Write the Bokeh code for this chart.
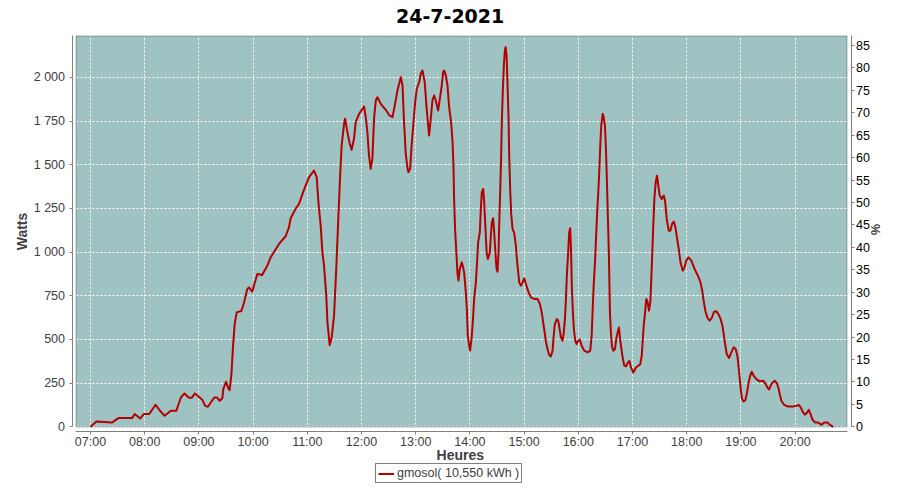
import math
from bokeh.plotting import figure
from bokeh.models import (Range1d, LinearAxis, FixedTicker, BoxAnnotation,
                          Legend, LegendItem, Label)
from bokeh.embed import file_html
from bokeh.resources import INLINE

# ---------------- data ----------------
title_text = "24-7-2021"
series_name = "gmosol( 10,550 kWh )"
x_label = "Heures"
y_label = "Watts"
y2_label = "%"

x_tick_minutes = [0, 60, 120, 180, 240, 300, 360, 420, 480, 540, 600, 660, 720, 780]
x_tick_labels = ["07:00", "08:00", "09:00", "10:00", "11:00", "12:00", "13:00",
                 "14:00", "15:00", "16:00", "17:00", "18:00", "19:00", "20:00"]
y_ticks = [0, 250, 500, 750, 1000, 1250, 1500, 1750, 2000]
y_tick_labels = ["0", "250", "500", "750", "1 000", "1 250", "1 500", "1 750", "2 000"]
y2_ticks = [0, 5, 10, 15, 20, 25, 30, 35, 40, 45, 50, 55, 60, 65, 70, 75, 80, 85]

# minutes after 07:00
t_min = [
    0, 6.6, 24, 31, 46, 49, 55, 59, 65, 72, 77, 82, 89, 95, 100, 104, 109, 112, 115.6,
    124, 127, 130, 137, 140, 143, 146, 147, 150, 152.6, 154, 156, 157.7, 159.6, 161.8,
    167, 170, 173.6, 175.4, 179, 184.7, 190, 195.8, 199.4, 208.7, 216, 219.7, 221.6,
    227, 230.8, 236.4, 241.9, 247.4, 250.4, 252.3, 254.8, 256.7, 258.5, 261, 262.3,
    264.8, 267, 269.6, 272.2, 274, 276, 278, 280.7, 281.8, 284.4, 286.6, 289, 291.7,
    293.6, 297.3, 302.8, 304.7, 306.5, 308.3, 310.2, 312, 313.9, 315.8, 317.6, 321.3,
    326.9, 330.5, 334.3, 337.2, 339.8, 343.5, 345.4, 347.1, 349, 351, 352, 353.8,
    355.7, 357.6, 359.4, 361.2, 363.8, 365.6, 367.5, 370, 372, 373.8, 374.8, 376.7,
    378.5, 380.4, 382.2, 384.8, 386.7, 388.6, 390.4, 391.5, 393.3, 395.2, 397, 399.2,
    400.8, 401.9, 402.5, 403.6, 405.2, 406.3, 407.4, 408.8, 411, 412.5, 413.6, 415.5,
    416.6, 417.7, 419.2, 420.2, 421.8, 423.2, 424.7, 426.6, 427.7, 429.1, 431, 432.1,
    433.2, 434.7, 435.8, 436.9, 438.5, 439.9, 442.1, 443.2, 444.3, 445.7, 446.9, 448,
    449.5, 450.6, 451.7, 452.4, 453.5, 454.6, 455.4, 456.5, 457.6, 458.7, 459.5, 460.6,
    461.7, 462.8, 463.5, 464.6, 465.7, 467.2, 469, 470.9, 472, 473.1, 474.6, 476.4,
    478.3, 480.1, 482, 485, 487.5, 491.2, 494.9, 497.5, 499.7, 502.2, 504, 505.9,
    507.8, 509.6, 511.5, 512.6, 514, 516.3, 517.8, 519.6, 520.8, 522.6, 523.7, 525.2,
    526.3, 527.4, 528.8, 529.9, 531, 531.8, 532.9, 534, 535.1, 536.6, 538.1, 539.9,
    541.8, 543.7, 546.6, 550.3, 553.2, 554.8, 555.9, 557, 558.5, 559.6, 560.7, 562.1,
    563.2, 564.3, 565.4, 567, 568.1, 569.5, 570.6, 571.7, 572.8, 573.9, 575, 576.1,
    577.2, 578.7, 580.6, 582, 583.5, 585, 586.1, 587.2, 589.1, 590.9, 592.8, 594.6,
    596.5, 598.3, 600.9, 603.9, 606.4, 608.6, 610.2, 611.3, 612.4, 613.9, 615.3, 616.8,
    618.2, 619.7, 620.8, 621.9, 623, 624.2, 625.7, 627.1, 628.6, 630.1, 632.3, 634.6,
    636, 637.9, 640.1, 641.9, 643.8, 645.7, 647.5, 649.4, 651.2, 653.1, 655.7, 657.6,
    659.4, 662, 665, 668.7, 672.4, 675.3, 677.2, 678.7, 680.6, 682.8, 685.4, 688,
    690.2, 692.8, 695.4, 697.6, 699.5, 701, 702.5, 704.3, 706.9, 709.4, 712, 714.2,
    716.1, 717.5, 718.6, 719.8, 721.3, 723.1, 725, 726.8, 728.6, 730.2, 731.9, 734.2,
    737.1, 740.8, 744.5, 747.1, 749.3, 751.2, 753.7, 757.4, 760, 761.8, 763.4, 764.8,
    767.8, 772.3, 777.8, 781.5, 784, 786.3, 788.2, 790.8, 793.4, 795.2, 797.1, 799,
    801.9, 805.6, 809.3, 812.2, 815.9, 818.5, 822.2,
]
watts = [
    0, 30, 25, 50, 50, 73, 48, 73, 73, 126, 92, 63, 92, 92, 168, 191, 166, 166, 191,
    153, 120, 115, 168, 168, 149, 164, 216, 258, 220, 210, 302, 455, 588, 655,
    663, 712, 789, 798, 774, 875, 869, 923, 970, 1047, 1091, 1142, 1194,
    1248, 1276, 1358, 1429, 1467, 1429, 1286, 1152, 999, 923, 751, 598,
    468, 512, 636, 923, 1152, 1400, 1610, 1735, 1764, 1687, 1629, 1586, 1649,
    1744, 1792, 1834, 1773, 1687, 1553, 1477, 1534, 1764, 1868, 1887, 1849,
    1815, 1785, 1773, 1849, 1926, 2002, 1954, 1744, 1563, 1477, 1458, 1477,
    1629, 1744, 1859, 1935, 1973, 2021, 2040, 1973, 1830, 1725, 1668, 1764,
    1868, 1897, 1868, 1811, 1878, 1945, 2031, 2040, 2012, 1954, 1830, 1744,
    1629, 1477, 1305, 1133, 980, 875, 837, 904, 942, 913, 884, 770,
    674, 522, 464, 436, 503, 598, 732, 827, 923, 1056, 1114, 1248,
    1343, 1362, 1286, 1171, 999, 961, 999, 1095, 1171, 1194, 1114, 1018,
    904, 888, 999, 1152, 1343, 1553, 1754, 1935, 2069, 2155, 2174, 2126,
    1954, 1764, 1553, 1362, 1219, 1133, 1110, 1037, 961, 904, 827, 808,
    827, 850, 818, 770, 741, 732, 732, 703, 650, 560, 493, 445,
    411, 403, 436, 512, 588, 617, 607, 550, 512, 493, 531, 617,
    732, 875, 999, 1114, 1137, 1037, 789, 655, 560, 493, 474, 493,
    499, 464, 436, 426, 436, 522, 674, 808, 942, 1076, 1209, 1343,
    1458, 1610, 1725, 1792, 1773, 1725, 1592, 1400, 1190, 980, 655, 540,
    464, 436, 445, 503, 540, 569, 512, 464, 397, 350, 346, 365,
    378, 340, 311, 340, 350, 359, 407, 493, 579, 655, 732, 712,
    665, 712, 846, 999, 1152, 1305, 1400, 1438, 1381, 1324, 1305, 1324,
    1295, 1190, 1123, 1123, 1162, 1175, 1142, 1076, 1018, 942, 894, 913,
    951, 970, 953, 904, 865, 827, 779, 722, 665, 626, 607, 626,
    659, 661, 642, 617, 579, 531, 474, 417, 394, 426, 455, 445,
    407, 340, 283, 216, 159, 145, 153, 197, 254, 292, 315, 292,
    273, 260, 264, 248, 225, 214, 245, 264, 248, 216, 178, 149,
    126, 116, 116, 120, 126, 111, 88, 69, 82, 97, 73, 44,
    25, 25, 11, 25, 25, 11, 0,
]

# ---------------- layout (canvas pixels -> data units) ----------------
W, H = 884, 484
X0_PX, MIN_PER_PX = 90.0, 1.107      # 07:00 at x=90 px
Y0_PX, W_PER_PX = 426.3, 5.7257      # 0 W at y=426.3 px
P_PER_PX = 0.22292                   # % per px on the right axis


def dx(px):
    return (px - X0_PX) * MIN_PER_PX


def dy(py):
    return (Y0_PX - py) * W_PER_PX


TEAL = "#9fc3c3"
RED = "#b40000"
GREY = "#808080"
DARK = "#404040"
FONT = "Liberation Sans"

p = figure(width=W, height=H, output_backend="svg", toolbar_location=None,
           x_range=Range1d(dx(0), dx(W)), y_range=Range1d(dy(H), dy(0)),
           min_border_left=0, min_border_right=0, min_border_top=0,
           min_border_bottom=0)
p.title.visible = False
p.outline_line_color = None
p.background_fill_color = "white"
p.border_fill_color = "white"
p.extra_y_ranges = {"pct": Range1d(-(H - Y0_PX) * P_PER_PX, Y0_PX * P_PER_PX)}

BOX_L, BOX_R, BOX_T, BOX_B = dx(75.5), dx(846.5), dy(35.5), dy(426.5)

# plot background
p.add_layout(BoxAnnotation(left=BOX_L, right=BOX_R, bottom=BOX_B, top=BOX_T,
                           fill_color=TEAL, fill_alpha=1.0, line_color=None,
                           level="image"))

xt = FixedTicker(ticks=x_tick_minutes)
yt = FixedTicker(ticks=y_ticks)

r = p.line(t_min, watts, line_color=RED, line_width=2, line_join="round")

# plot border
p.add_layout(BoxAnnotation(left=BOX_L, right=BOX_R, bottom=BOX_B, top=BOX_T,
                           fill_alpha=0, line_color="black", line_width=1,
                           level="overlay"))

# grids
p.xgrid.ticker = xt
p.ygrid.ticker = yt
for g in (p.xgrid[0], p.ygrid[0]):
    g.grid_line_color = "white"
    g.grid_line_dash = "2 2"
    g.grid_line_width = 1
    g.grid_line_alpha = 1.0


def style_axis(ax, label_color):
    ax.axis_line_color = GREY
    ax.major_tick_line_color = GREY
    ax.major_tick_in = 0
    ax.major_tick_out = 3
    ax.minor_tick_line_color = None
    ax.major_label_text_font = FONT
    ax.major_label_text_font_size = "12.5px"
    ax.major_label_text_color = label_color


xa = p.xaxis[0]
xa.ticker = xt
xa.major_label_overrides = dict(zip(x_tick_minutes, x_tick_labels))
xa.fixed_location = dy(430.5)
xa.bounds = (dx(75), dx(846.7))
style_axis(xa, DARK)
xa.major_label_standoff = 1

ya = p.yaxis[0]
ya.ticker = yt
ya.major_label_overrides = dict(zip(y_ticks, y_tick_labels))
ya.fixed_location = dx(71.5)
ya.bounds = (0, dy(35))
style_axis(ya, DARK)
ya.major_label_standoff = 4

ya2 = LinearAxis(y_range_name="pct", ticker=FixedTicker(ticks=y2_ticks),
                 fixed_location=dx(850.5), bounds=(0, (Y0_PX - 35) * P_PER_PX))
style_axis(ya2, "black")
ya2.major_label_standoff = 2
p.add_layout(ya2, "right")

# texts
p.add_layout(Label(x=dx(449.6), y=dy(15.2), text=title_text,
                   text_align="center", text_baseline="alphabetic",
                   text_font="DejaVu Sans", text_font_style="bold",
                   text_font_size="19px", text_color="black"))
p.add_layout(Label(x=dx(459.8), y=dy(454.5), text=x_label,
                   text_align="center", text_baseline="alphabetic",
                   text_font=FONT, text_font_style="bold",
                   text_font_size="14px", text_color=DARK))
p.add_layout(Label(x=dx(21), y=dy(231), text=y_label, angle=math.pi / 2,
                   text_align="center", text_baseline="middle",
                   text_font=FONT, text_font_style="bold",
                   text_font_size="14px", text_color=DARK))
p.add_layout(Label(x=dx(875), y=dy(229), text=y2_label, angle=math.pi / 2,
                   text_align="center", text_baseline="middle",
                   text_font=FONT, text_font_style="bold",
                   text_font_size="12.5px", text_color=DARK))

# legend
legend = Legend(items=[LegendItem(label=series_name, renderers=[r])],
                location=(375, 1), orientation="vertical", margin=0,
                padding=2, spacing=0, glyph_width=16, glyph_height=13,
                label_height=13, label_standoff=3,
                border_line_color="black", border_line_width=1,
                background_fill_color="white", background_fill_alpha=1.0,
                label_text_font=FONT, label_text_font_size="12.5px",
                label_text_color=DARK)
p.add_layout(legend)

open("out.html", "w").write(file_html(p, INLINE))
